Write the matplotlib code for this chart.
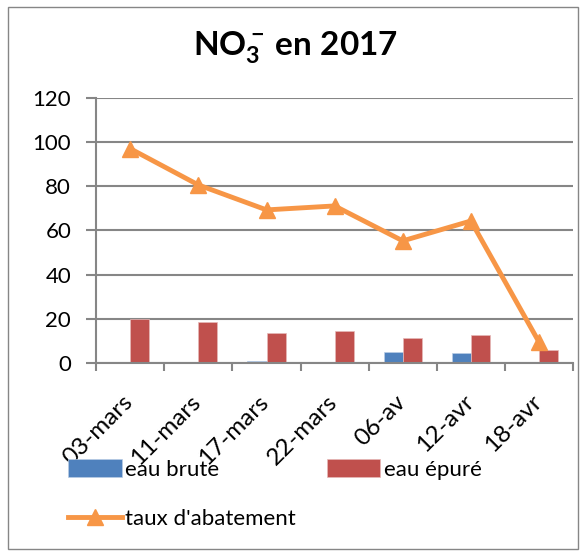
import matplotlib
matplotlib.use("Agg")
import matplotlib.pyplot as plt
import matplotlib.transforms as mtransforms
import numpy as np
from matplotlib.patches import Rectangle

plt.rcParams['font.family'] = ['Lato', 'DejaVu Sans']
plt.rcParams['mathtext.fontset'] = 'custom'
plt.rcParams['mathtext.rm'] = 'Lato'
plt.rcParams['mathtext.bf'] = 'Lato:bold'

categories = ['03-mars', '11-mars', '17-mars', '22-mars', '06-av', '12-avr', '18-avr']
eau_brute = [0.0, 0.5, 0.8, 0.5, 5.1, 4.7, 0.0]
eau_epure = [20.0, 18.5, 13.4, 14.5, 11.5, 12.8, 6.0]
taux_abatement = [97, 80.6, 69.3, 71.1, 55.3, 64.3, 9.5]
yticks = [0, 20, 40, 60, 80, 100, 120]

fig = plt.figure(figsize=(5.83, 5.56), dpi=100)
fig.patches.append(Rectangle((0.014, 0.013), 0.978, 0.975, transform=fig.transFigure,
                             fill=False, edgecolor='#868686', linewidth=1))
ax = fig.add_axes([0.165, 0.347, 0.818, 0.477])

x = np.arange(len(categories))
w = 0.28
grid_c = '#868686'
b1 = ax.bar(x - w / 2, eau_brute, w, color='#4F81BD', edgecolor='#B9CDE5', linewidth=0.5,
            label='eau brute', zorder=2)
b2 = ax.bar(x + w / 2, eau_epure, w, color='#C0504D', edgecolor='#E6B9B8', linewidth=0.5,
            label='eau épuré', zorder=2)
l1, = ax.plot(x, taux_abatement, color='#F79646', linewidth=3.5, marker='^', markersize=12,
              label="taux d'abatement", zorder=3)

ax.set_xlim(-0.5, len(categories) - 0.5)
ax.set_ylim(0, 120)
ax.set_yticks(yticks)
ax.yaxis.grid(True, color=grid_c, linewidth=1.5)
ax.set_axisbelow(True)
for s in ['top', 'right']:
    ax.spines[s].set_visible(False)
for s in ['left', 'bottom']:
    ax.spines[s].set_color(grid_c)
    ax.spines[s].set_linewidth(1.5)

ax.set_xticks(x)
ax.set_xticklabels(categories, rotation=45, ha='right', rotation_mode='anchor', fontsize=17.5)
ax.tick_params(axis='x', length=0, pad=16)
offset = mtransforms.ScaledTranslation(-6 / 72, -4 / 72, fig.dpi_scale_trans)
for lbl in ax.get_xticklabels():
    lbl.set_transform(lbl.get_transform() + offset)
ax.set_xticks(np.arange(-0.5, len(categories), 1), minor=True)
ax.tick_params(axis='x', which='minor', length=6, width=1.5, color=grid_c)
ax.tick_params(axis='y', labelsize=16, length=7, width=1.5, color=grid_c, pad=11)

fig.text(0.507, 0.915, r'$\mathbf{NO_3^-}\,$' + 'en 2017', ha='center', va='center',
         fontsize=24, fontweight='bold')

fig.legend([b1, l1, b2], ['eau brute', "taux d'abatement", 'eau épuré'], ncol=2,
           loc='lower left', bbox_to_anchor=(0.083, 0.012), frameon=False, fontsize=16,
           handlelength=2.4, handleheight=0.9, handletextpad=0.15, columnspacing=1.4,
           labelspacing=1.3)

fig.savefig('out.png', dpi=100)
